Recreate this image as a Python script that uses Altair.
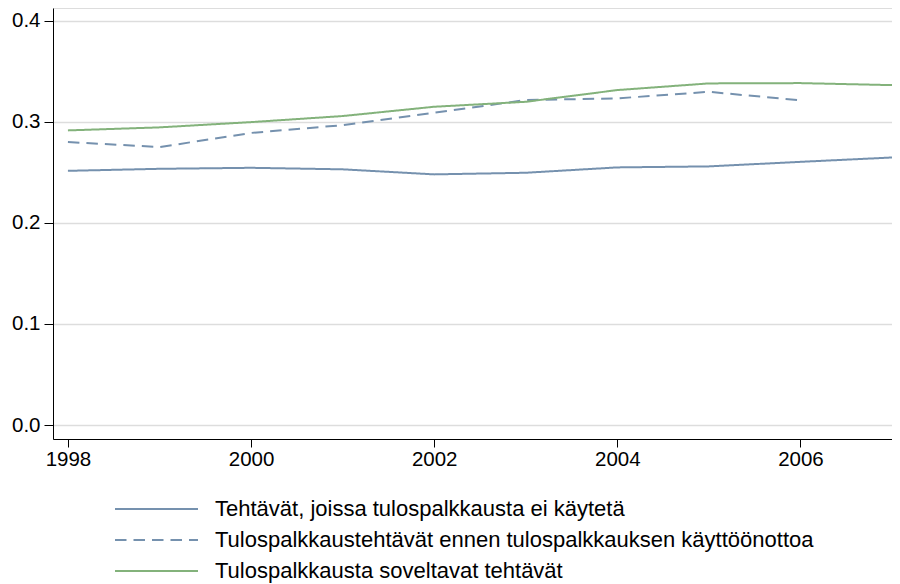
import altair as alt
import pandas as pd

years = list(range(1998, 2008))
years_dashed = list(range(1998, 2007))

series_names = [
    "Tehtävät, joissa tulospalkkausta ei käytetä",
    "Tulospalkkaustehtävät ennen tulospalkkauksen käyttöönottoa",
    "Tulospalkkausta soveltavat tehtävät",
]

not_used = [0.2515, 0.2535, 0.2545, 0.2530, 0.2480, 0.2496, 0.2549, 0.2559, 0.2604, 0.2647]
before_adoption = [0.2800, 0.2750, 0.2890, 0.2967, 0.3090, 0.3215, 0.3232, 0.3297, 0.3212]
applying = [0.2915, 0.2945, 0.2997, 0.3057, 0.3149, 0.3198, 0.3314, 0.3380, 0.3383, 0.3363]

y_ticks = [0.0, 0.1, 0.2, 0.3, 0.4]
x_ticks = [1998, 2000, 2002, 2004, 2006]

rows = []
for name, xs, vals in [
    (series_names[0], years, not_used),
    (series_names[1], years_dashed, before_adoption),
    (series_names[2], years, applying),
]:
    for x, v in zip(xs, vals):
        rows.append({"year": x, "value": v, "series": name})
df = pd.DataFrame(rows)
legend_df = pd.DataFrame({"series": series_names})

color_scale = alt.Scale(domain=series_names, range=["#7591ae", "#7591ae", "#83b27b"])
dash_scale = alt.Scale(domain=series_names, range=[[1, 0], [11.5, 7], [1, 0]])

lines = (
    alt.Chart(df)
    .mark_line(strokeWidth=2)
    .encode(
        x=alt.X(
            "year:Q",
            scale=alt.Scale(domain=[1997.837, 2007.0], nice=False, zero=False),
            axis=alt.Axis(values=x_ticks, format="d", title=None, grid=False,
                          tickSize=8, labelPadding=2, labelFontSize=20.5),
        ),
        y=alt.Y(
            "value:Q",
            scale=alt.Scale(domain=[-0.0138, 0.4126], nice=False, zero=False),
            axis=alt.Axis(values=y_ticks, format=".1f", title=None, grid=True,
                          tickSize=9, labelPadding=4, labelFontSize=20.5),
        ),
        color=alt.Color("series:N", scale=color_scale, legend=None),
        strokeDash=alt.StrokeDash("series:N", scale=dash_scale, legend=None),
    )
)

legend_y = alt.Y(
    "series:N",
    scale=alt.Scale(type="point", domain=series_names, range=[501, 563], padding=0),
    axis=None,
)

legend_rules = (
    alt.Chart(legend_df)
    .mark_rule(strokeWidth=2)
    .encode(
        x=alt.value(62),
        x2=alt.value(145),
        y=legend_y,
        color=alt.Color("series:N", scale=color_scale, legend=None),
        strokeDash=alt.StrokeDash("series:N", scale=dash_scale, legend=None),
    )
)

legend_text = (
    alt.Chart(legend_df)
    .mark_text(align="left", baseline="middle", fontSize=22,
               font="Liberation Sans", color="#000000")
    .encode(x=alt.value(162), y=legend_y, text="series:N")
)

chart = (
    alt.layer(lines, legend_rules, legend_text)
    .resolve_scale(y="independent")
    .properties(
        width=839,
        height=431,
        autosize=alt.AutoSizeParams(type="none"),
        padding={"left": 45, "top": 0, "right": 0, "bottom": 144},
    )
    .configure_view(stroke=None)
    .configure(font="Liberation Sans")
    .configure_axis(
        domainColor="#000000",
        domainWidth=1,
        tickColor="#000000",
        labelColor="#000000",
        gridColor="#dddddd",
        gridWidth=1.5,
        labelFont="Liberation Sans",
    )
)

chart.save("out.html", embed_options={"renderer": "svg", "actions": False})
